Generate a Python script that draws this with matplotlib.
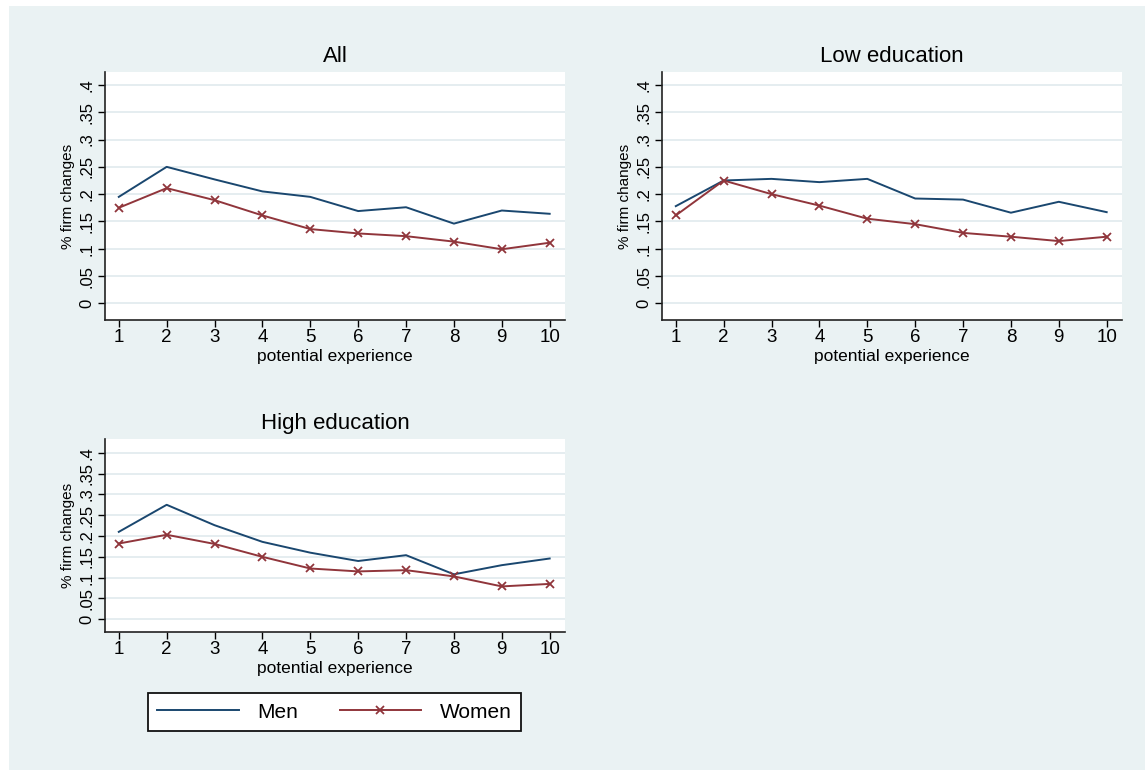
import matplotlib
matplotlib.use("Agg")
import matplotlib.pyplot as plt
from matplotlib.patches import Rectangle
from matplotlib.lines import Line2D

plt.rcParams['font.family'] = ['Liberation Sans', 'DejaVu Sans']

# data
experience = [1, 2, 3, 4, 5, 6, 7, 8, 9, 10]

all_men = [0.195, 0.250, 0.227, 0.205, 0.195, 0.169, 0.176, 0.146, 0.170, 0.164]
all_women = [0.175, 0.211, 0.189, 0.161, 0.136, 0.128, 0.123, 0.113, 0.099, 0.111]

low_men = [0.178, 0.225, 0.228, 0.222, 0.228, 0.192, 0.190, 0.166, 0.186, 0.167]
low_women = [0.161, 0.225, 0.200, 0.179, 0.155, 0.145, 0.129, 0.122, 0.114, 0.122]

high_men = [0.210, 0.275, 0.226, 0.186, 0.160, 0.140, 0.154, 0.108, 0.130, 0.146]
high_women = [0.182, 0.203, 0.181, 0.150, 0.122, 0.115, 0.118, 0.103, 0.079, 0.085]

yticks = [0, 0.05, 0.1, 0.15, 0.2, 0.25, 0.3, 0.35, 0.4]
ytick_labels = ['0', '.05', '.1', '.15', '.2', '.25', '.3', '.35', '.4']

MEN = '#1A476F'
WOMEN = '#90353B'
BG = '#EAF2F3'
GRID = '#E3ECEF'

W, H = 1145, 770
fig = plt.figure(figsize=(W / 100, H / 100), dpi=100, facecolor='white')
fig.patches.append(Rectangle((9 / W, 0), 1 - 9 / W, 1 - 6 / H,
                             transform=fig.transFigure, facecolor=BG,
                             edgecolor='none', zorder=-10))


def px_axes(left, top, right, bottom):
    return fig.add_axes([left / W, 1 - bottom / H, (right - left) / W, (bottom - top) / H])


def panel(ax, title, men, women, ylim):
    ax.set_facecolor('white')
    for y in yticks:
        ax.axhline(y, color=GRID, lw=1.3, zorder=0)
    ax.plot(experience, men, color=MEN, lw=1.4, zorder=3)
    ax.plot(experience, women, color=WOMEN, lw=1.4, marker='x', ms=6,
            mew=1.3, zorder=3)
    ax.set_xlim(0.712, 10.32)
    ax.set_ylim(*ylim)
    ax.set_xticks(experience)
    ax.set_yticks(yticks)
    ax.set_yticklabels(ytick_labels, rotation=90, va='center',
                       family=['Liberation Sans Narrow', 'Liberation Sans'])
    ax.tick_params(axis='x', labelsize=13.5, length=5, width=1.0, pad=1.5)
    ax.tick_params(axis='y', labelsize=12, length=5.3, width=1.0, pad=2.5)
    for s in ['top', 'right']:
        ax.spines[s].set_visible(False)
    for s in ['left', 'bottom']:
        ax.spines[s].set_linewidth(1.2)
        ax.spines[s].set_color('#222222')
    ax.set_title(title, fontsize=16, pad=7)
    ax.set_xlabel('potential experience', fontsize=12.5, labelpad=2)
    ax.set_ylabel('% firm changes', fontsize=11, labelpad=3)


ax1 = px_axes(105, 72, 565, 320)
panel(ax1, 'All', all_men, all_women, (-0.0306, 0.4238))

ax2 = px_axes(662, 72, 1122, 320)
panel(ax2, 'Low education', low_men, low_women, (-0.0306, 0.4238))

ax3 = px_axes(105, 439, 565, 632)
panel(ax3, 'High education', high_men, high_women, (-0.0305, 0.433))

handles = [Line2D([], [], color=MEN, lw=1.4),
           Line2D([], [], color=WOMEN, lw=1.4, marker='x', ms=6, mew=1.3)]
leg = fig.legend(handles, ['Men', 'Women'], loc='center',
                 bbox_to_anchor=(334.5 / W, 1 - 712 / H), ncol=2,
                 fontsize=15, frameon=True, fancybox=False,
                 handlelength=3.9, handletextpad=0.9, columnspacing=2.0,
                 borderpad=0.45)
leg.get_frame().set_edgecolor('#111111')
leg.get_frame().set_linewidth(1.3)
leg.get_frame().set_facecolor('white')
leg.get_frame().set_alpha(1)

fig.savefig('out.png', dpi=100, facecolor=fig.get_facecolor())
